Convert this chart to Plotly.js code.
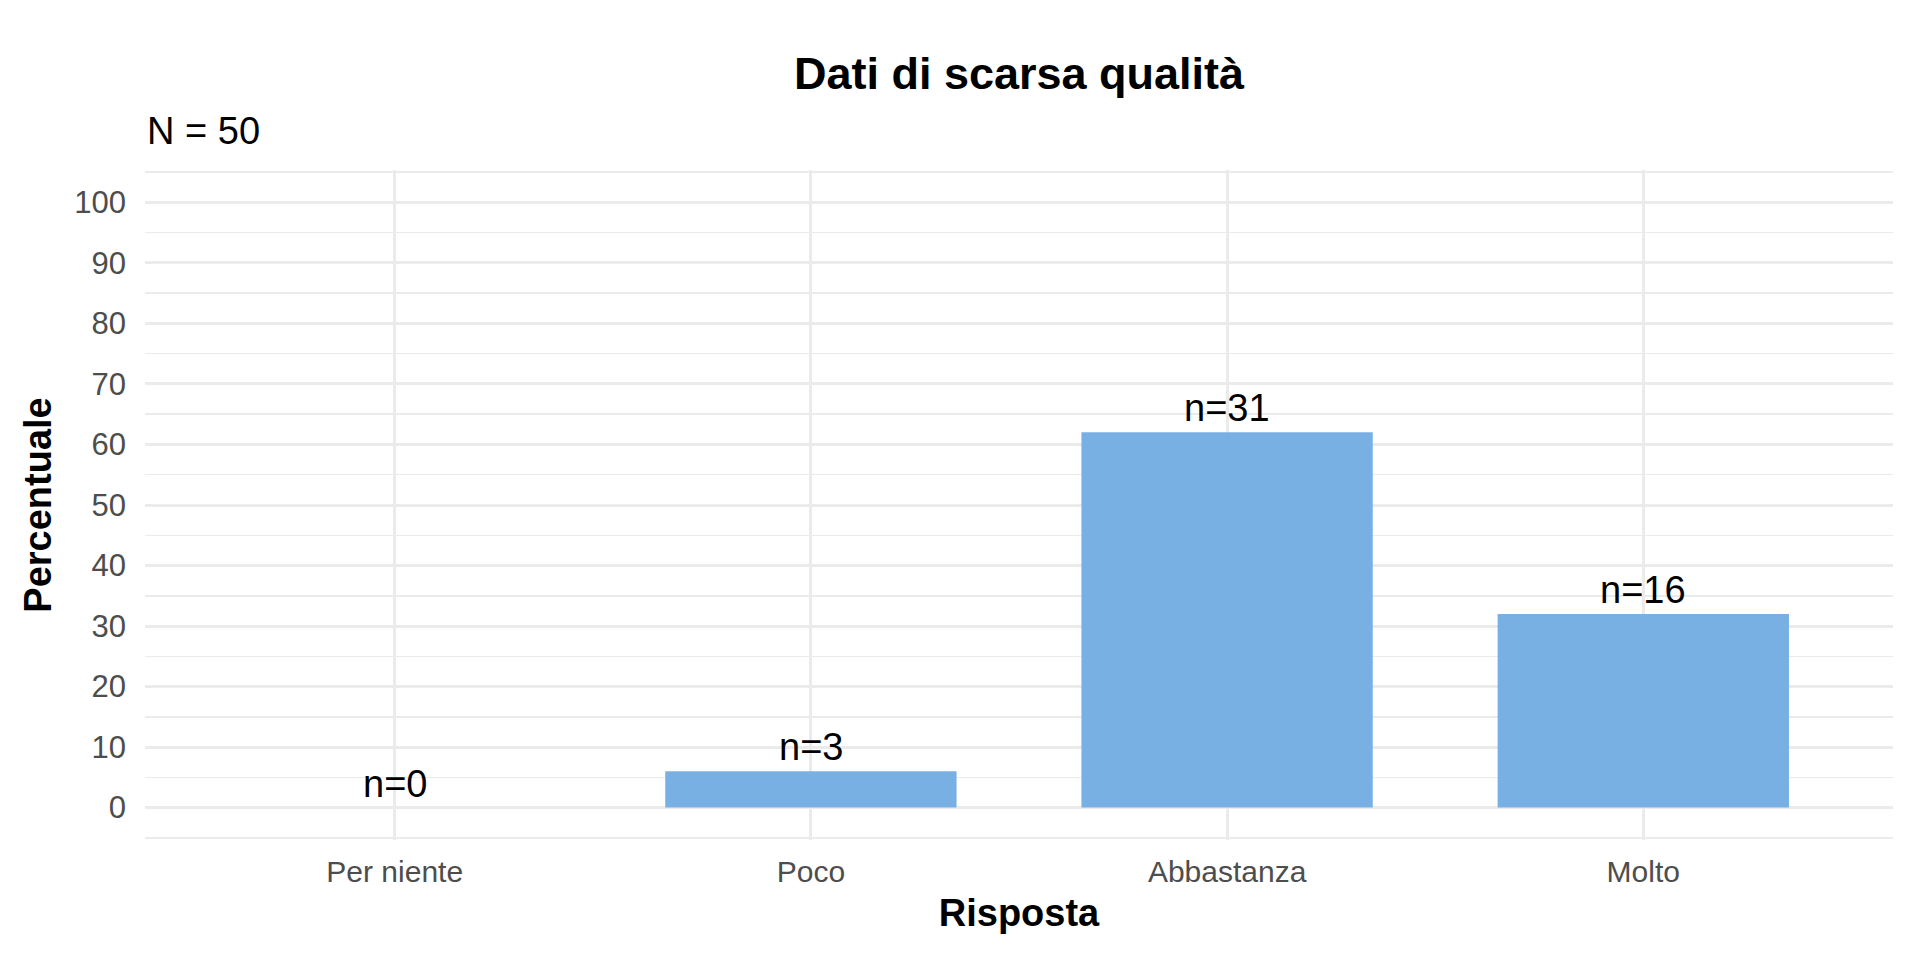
<!DOCTYPE html>
<html>
<head>
<meta charset="utf-8">
<script src="https://cdn.plot.ly/plotly-3.0.1.min.js"></script>
<style>html,body{margin:0;padding:0;background:#fff;}#chart{width:1920px;height:960px;}</style>
</head>
<body>
<div id="chart"></div>
<script>
const categories = ["Per niente", "Poco", "Abbastanza", "Molto"];
const counts = [0, 3, 31, 16];
const totalN = 50;
const percentages = [0, 6, 62, 32];
const countLabels = ["n=0", "n=3", "n=31", "n=16"];
const yTickStep = 10;
const yRange = [-5, 105];

const FONT = "Liberation Sans, Arial, Helvetica, sans-serif";

const trace = {
  type: "bar",
  x: categories,
  y: percentages,
  width: 0.7,
  marker: {color: "#78b0e4", line: {width: 0}},
  hoverinfo: "none"
};

// helper trace so the overlaid minor-grid axis exists (no visible marks)
const gridHelper = {type: "scatter", mode: "markers", x: [], y: [], yaxis: "y2", hoverinfo: "none", showlegend: false};

const labelAnnotations = categories.map((c, i) => ({
  x: c, y: percentages[i], xref: "x", yref: "y",
  text: countLabels[i], showarrow: false,
  yanchor: "middle", yshift: 24,
  font: {family: FONT, size: 38, color: "#000000"}
}));

const pad = 0.35;
const layout = {
  width: 1920, height: 960,
  margin: {l: 144.5, r: 27, t: 170, b: 120},
  paper_bgcolor: "#ffffff", plot_bgcolor: "#ffffff",
  showlegend: false,
  bargap: 0.3,
  title: {
    text: "<b>Dati di scarsa qualità</b>",
    x: 0.5, xref: "paper", xanchor: "center",
    y: 1 - 73/960, yref: "container", yanchor: "middle",
    font: {family: FONT, size: 45, color: "#000000"}
  },
  xaxis: {
    type: "category",
    range: [-0.6, 3.6],
    showgrid: true, gridcolor: "#ebebeb", gridwidth: 3,
    zeroline: false, showline: false, ticks: "",
    tickfont: {family: FONT, size: 30, color: "#4d4d4d"},
    ticklabelstandoff: 11,
    title: {text: "<b>Risposta</b>", font: {family: FONT, size: 38, color: "#000000"}, standoff: 12},
    fixedrange: true
  },
  yaxis: {
    range: [yRange[0] - pad, yRange[1] + pad],
    tickmode: "linear", tick0: 0, dtick: yTickStep,
    showgrid: true, gridcolor: "#ebebeb", gridwidth: 3,
    zeroline: false, showline: false, ticks: "",
    tickfont: {family: FONT, size: 31, color: "#4d4d4d"},
    ticklabelstandoff: 18,
    title: {text: "<b>Percentuale</b>", font: {family: FONT, size: 38, color: "#000000"}, standoff: 10},
    fixedrange: true
  },
  yaxis2: {
    overlaying: "y", side: "left",
    range: [yRange[0] - pad, yRange[1] + pad],
    tickmode: "linear", tick0: yTickStep / 2, dtick: yTickStep,
    showgrid: true, gridcolor: "#ebebeb", gridwidth: 1.5,
    zeroline: false, showline: false, ticks: "", showticklabels: false,
    fixedrange: true
  },
  annotations: labelAnnotations.concat([{
    xref: "paper", yref: "paper", x: 0, y: (840-131)/670,
    xanchor: "left", yanchor: "middle", showarrow: false,
    text: "N = " + totalN,
    font: {family: FONT, size: 38, color: "#000000"}
  }])
};

Plotly.newPlot("chart", [trace, gridHelper], layout, {displayModeBar: false, staticPlot: true});
</script>
</body>
</html>
